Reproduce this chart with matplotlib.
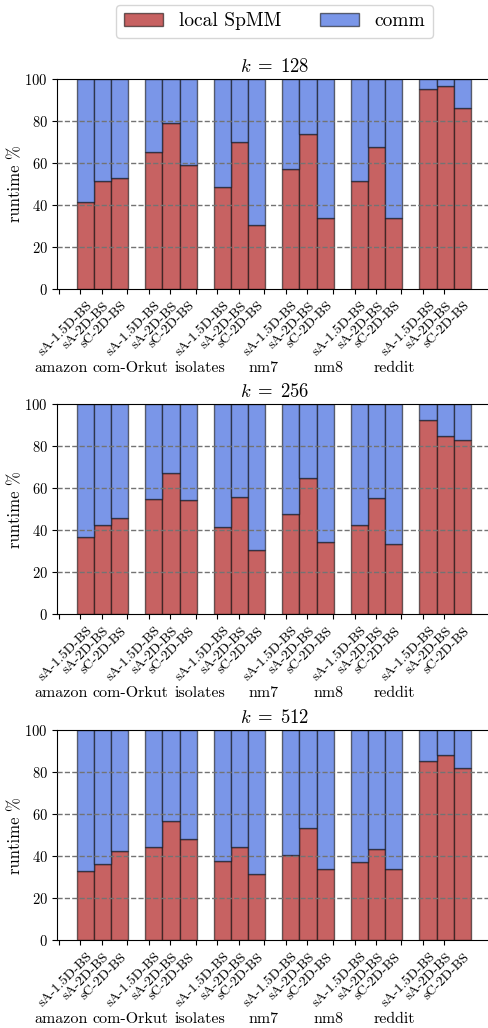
import numpy as np
import matplotlib
matplotlib.use('Agg')
import matplotlib.pyplot as plt
from matplotlib.transforms import blended_transform_factory

plt.rcParams['font.family'] = ['cmr10', 'DejaVu Serif']
plt.rcParams['mathtext.fontset'] = 'cm'
plt.rcParams['axes.formatter.use_mathtext'] = True

datasets = ['amazon', 'com-Orkut', 'isolates', 'nm7', 'nm8', 'reddit']
algorithms = ['sA-1.5D-BS', 'sA-2D-BS', 'sC-2D-BS']
k_values = [128, 256, 512]

# share of runtime spent in local SpMM (%), rows = datasets, cols = algorithms
local_k128 = [[41.3, 51.3, 53.0],
              [65.1, 79.2, 58.9],
              [48.4, 70.2, 30.5],
              [57.0, 73.8, 33.6],
              [51.4, 67.5, 34.0],
              [95.2, 96.7, 86.2]]
local_k256 = [[36.7, 42.6, 45.8],
              [54.9, 67.3, 54.4],
              [41.5, 56.1, 30.5],
              [48.0, 64.9, 34.4],
              [42.6, 55.2, 33.4],
              [92.6, 84.7, 83.0]]
local_k512 = [[32.9, 36.3, 42.4],
              [44.3, 56.7, 48.2],
              [37.6, 44.6, 31.4],
              [40.8, 53.3, 33.8],
              [37.1, 43.5, 33.8],
              [85.2, 88.1, 81.9]]

RED = '#C76262'
BLUE = '#7A96E8'
EDGE = (0, 0, 0, 0.55)

fig = plt.figure(figsize=(4.88, 10.28), dpi=100)
bottoms = [0.7189, 0.4024, 0.0853]

n_alg = len(algorithms)
group = np.arange(len(datasets)) * 4
bar_x = (group[:, None] + 1.62 + np.arange(n_alg)[None, :]).ravel()
tick_x = (group[:, None] + np.array([0.07, 1.33, 2.57])[None, :]).ravel()
label_x = [0.2, 4.28, 8.3, 12.04, 15.83, 19.68]

for k, local, bottom in zip(k_values, [local_k128, local_k256, local_k512], bottoms):
    ax = fig.add_axes([0.1178, bottom, 0.89, 0.2043])
    local = np.array(local).ravel()
    comm = 100 - local
    b1 = ax.bar(bar_x, local, width=1.0, color=RED, edgecolor=EDGE, linewidth=1.0, label='local SpMM')
    b2 = ax.bar(bar_x, comm, width=1.0, bottom=local, color=BLUE, edgecolor=EDGE, linewidth=1.0, label='comm')

    ax.set_xlim(0, 25.34)
    ax.set_ylim(0, 100)
    yt = np.arange(0, 101, 20)
    ax.set_yticks(yt)
    ax.tick_params(axis='y', labelsize=10.5, length=3.5, width=0.8)
    # dashed guide lines drawn over the bars, but not over the spines
    for y in yt[1:-1]:
        ax.axhline(y, linestyle='--', color='0.45', linewidth=1.0, zorder=3)

    ax.set_xticks(bar_x + 0.05)
    ax.set_xticklabels(algorithms * len(datasets), rotation=45, ha='right', va='top',
                       rotation_mode='anchor', fontsize=10)
    ax.tick_params(axis='x', which='major', length=0, pad=7.5)
    ax.set_xticks(tick_x, minor=True)
    ax.tick_params(axis='x', which='minor', length=3.5, width=0.8)

    ax.spines['right'].set_visible(False)
    ax.set_ylabel('runtime %', fontsize=12)
    ax.yaxis.set_label_coords(-0.078, 0.5)
    ax.set_title(r'$k\;=\;%d$' % k, fontsize=13.5, pad=5)

    trans = blended_transform_factory(ax.transData, ax.transAxes)
    for x, name in zip(label_x, datasets):
        ax.text(x, -0.375, name, transform=trans, ha='center', va='center', fontsize=11.5)

    if k == k_values[0]:
        ax.legend(handles=[b1, b2], loc='center', bbox_to_anchor=(0.5, 1.274),
                  ncol=2, fontsize=14)

fig.savefig('out.png', dpi=100)
